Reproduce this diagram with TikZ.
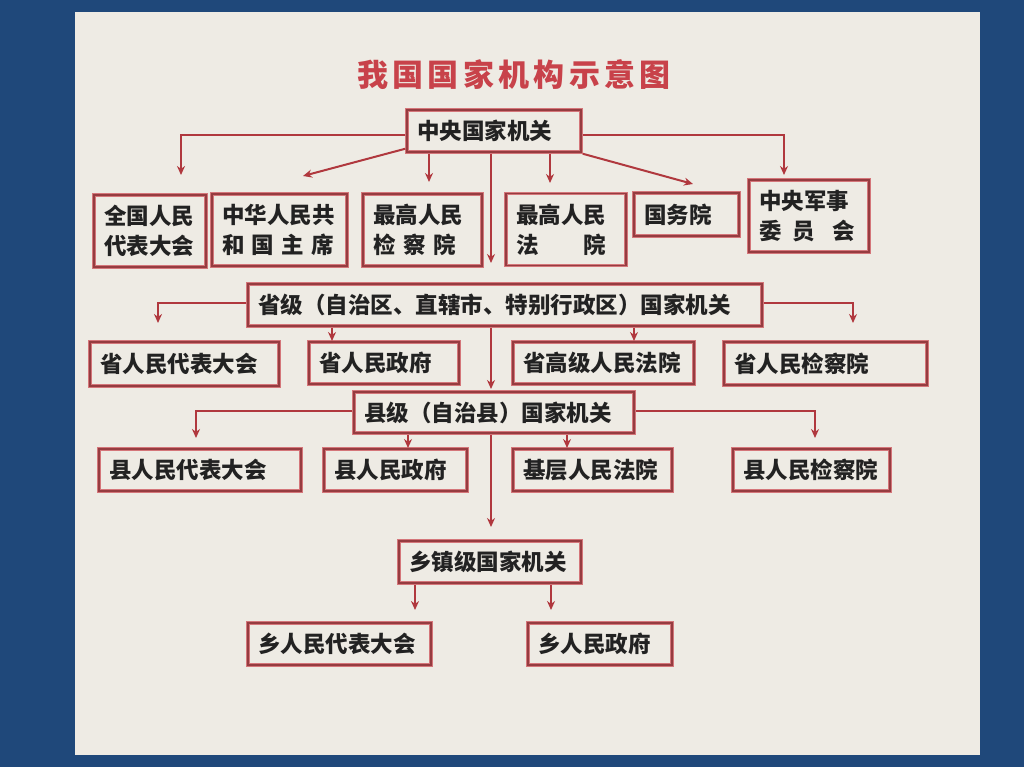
\documentclass[tikz,border=0pt]{standalone}
\usepackage{fontspec}
\newfontfamily\cjk{Noto Sans CJK SC}
\usetikzlibrary{arrows.meta}
\definecolor{bgblue}{RGB}{31,72,122}
\definecolor{panel}{RGB}{238,235,228}
\definecolor{boxred}{RGB}{212,118,122}
\definecolor{boxdark}{RGB}{150,60,64}
\definecolor{linkred}{RGB}{176,56,62}
\definecolor{titlered}{RGB}{200,66,74}
\definecolor{textgray}{RGB}{34,34,34}
\begin{document}
\begin{tikzpicture}[x=1pt, y=-1pt,
    box/.style={draw=boxred, line width=3.5pt, fill=panel, inner xsep=10pt, inner ysep=0pt,
        postaction={draw=boxdark, line width=1.3pt},
        align=left, text=textgray, font={\cjk\bfseries\fontsize{22.5}{30}\selectfont}},
    link/.style={draw=linkred, line width=2pt, -{Stealth[length=9pt,width=8pt]}}]
    % Background and panel
    \useasboundingbox (0,0) rectangle (1024,767);
    \fill[bgblue] (0,0) rectangle (1024,767);
    \fill[panel] (75,12) rectangle (980,755);

    % Title
    \node[text=titlered, font={\cjk\bfseries\fontsize{31}{31}\selectfont\addfontfeature{LetterSpace=14}}] (title) at (514,75) {我国国家机构示意图};

    % Central level
    \node[box, text width=154pt, minimum height=42pt] (zy) at (494,131) {中央国家机关};
    \node[box, text width=92pt, minimum height=72pt] (rd) at (150,231) {全国人民\\代表大会};
    \node[box, text width=115pt, minimum height=72pt] (zx) at (279.5,230) {中华人民共\\和\hspace{.33em}国\hspace{.33em}主\hspace{.33em}席};
    \node[box, text width=99pt, minimum height=72pt] (jcy) at (422.5,230) {最高人民\\检\hspace{.35em}察\hspace{.35em}院};
    \node[box, text width=100pt, minimum height=72pt] (fy) at (566,229.5) {最高人民\\法\hspace{2em}院};
    \node[box, text width=85pt, minimum height=43pt] (gwy) at (686.5,214.5) {国务院};
    \node[box, text width=100pt, minimum height=72pt] (jw) at (809,216) {中央军事\\委\hspace{.5em}员\hspace{.75em}会};

    % Arrow ends, central level
    \coordinate (t-rd) at (181,175);
    \coordinate (t-zx) at (303,176);
    \coordinate (t-jcy) at (429,182);
    \coordinate (t-sj) at (491,263);
    \coordinate (t-fy) at (550,183);
    \coordinate (t-gwy) at (693,184);
    \coordinate (t-jw) at (784,175);

    \draw[link] ([yshift=-4pt]zy.west) -| (t-rd);
    \draw[link] ([yshift=5pt]zy.south west) -- (t-zx);
    \draw[link] (zy.south -| t-jcy) -- (t-jcy);
    \draw[link] (zy.south -| t-sj) -- (t-sj);
    \draw[link] (zy.south -| t-fy) -- (t-fy);
    \draw[link] (zy.south east) -- (t-gwy);
    \draw[link] ([yshift=-4pt]zy.east) -| (t-jw);

    % Provincial level
    \node[box, text width=494pt, minimum height=42pt] (sj) at (505,305) {省级（自治区、直辖市、特别行政区）国家机关};
    \node[box, text width=169pt, minimum height=44pt] (srd) at (184.5,364) {省人民代表大会};
    \node[box, text width=130pt, minimum height=42pt] (szf) at (384,363) {省人民政府};
    \node[box, text width=161pt, minimum height=42pt] (sfy) at (603.5,363) {省高级人民法院};
    \node[box, text width=183pt, minimum height=43pt] (sjc) at (825.5,363.5) {省人民检察院};

    \coordinate (t-srd) at (158,323);
    \coordinate (t-szf) at (332,341);
    \coordinate (t-xj) at (491,389);
    \coordinate (t-sfy) at (634,341);
    \coordinate (t-sjc) at (853,323);

    \draw[link] ([yshift=2pt]sj.west) -| (t-srd);
    \draw[link] (sj.south -| t-szf) -- (t-szf);
    \draw[link] (sj.south -| t-xj) -- (t-xj);
    \draw[link] (sj.south -| t-sfy) -- (t-sfy);
    \draw[link] ([yshift=2pt]sj.east) -| (t-sjc);

    % County level
    \node[box, text width=260pt, minimum height=41pt] (xj) at (494,412.5) {县级（自治县）国家机关};
    \node[box, text width=182pt, minimum height=42pt] (xrd) at (200,470) {县人民代表大会};
    \node[box, text width=123pt, minimum height=42pt] (xzf) at (395.5,470) {县人民政府};
    \node[box, text width=139pt, minimum height=42pt] (jcfy) at (592.5,470) {基层人民法院};
    \node[box, text width=137pt, minimum height=42pt] (xjc) at (811.5,470) {县人民检察院};

    \coordinate (t-xrd) at (196,438);
    \coordinate (t-xzf) at (408,448);
    \coordinate (t-xz) at (491,527);
    \coordinate (t-jcfy) at (567,448);
    \coordinate (t-xjc) at (815,438);

    \draw[link] ([yshift=2pt]xj.west) -| (t-xrd);
    \draw[link] (xj.south -| t-xzf) -- (t-xzf);
    \draw[link] (xj.south -| t-xz) -- (t-xz);
    \draw[link] (xj.south -| t-jcfy) -- (t-jcfy);
    \draw[link] ([yshift=2pt]xj.east) -| (t-xjc);

    % Township level
    \node[box, text width=162pt, minimum height=42pt] (xz) at (490,562) {乡镇级国家机关};
    \node[box, text width=163pt, minimum height=42pt] (xzrd) at (339.5,644) {乡人民代表大会};
    \node[box, text width=124pt, minimum height=42pt] (xzzf) at (600,644) {乡人民政府};

    \coordinate (t-xzrd) at (415,610);
    \coordinate (t-xzzf) at (551,610);

    \draw[link] (xz.south -| t-xzrd) -- (t-xzrd);
    \draw[link] (xz.south -| t-xzzf) -- (t-xzzf);
\end{tikzpicture}
\end{document}
